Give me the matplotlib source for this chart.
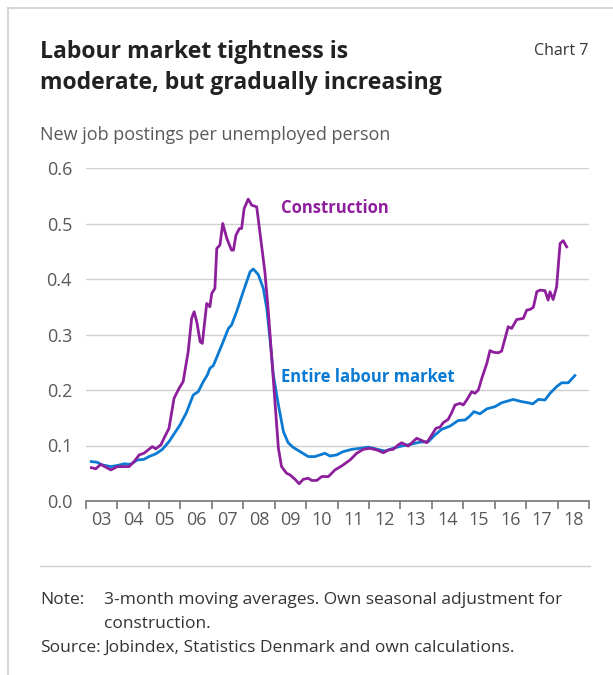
import matplotlib.pyplot as plt
from matplotlib.lines import Line2D
import numpy as np

plt.rcParams['font.family'] = ['Open Sans', 'DejaVu Sans']

# construction, new job postings per unemployed person (decimal years)
constr_years = [2003.17, 2003.31, 2003.47, 2003.79, 2004.00, 2004.21, 2004.37, 2004.53, 2004.69, 2004.84,
                2005.11, 2005.22, 2005.38, 2005.48, 2005.64, 2005.80, 2005.96, 2006.09, 2006.17, 2006.25,
                2006.36, 2006.44, 2006.53, 2006.63, 2006.70, 2006.84, 2006.94, 2007.00, 2007.10, 2007.16,
                2007.26, 2007.35, 2007.48, 2007.63, 2007.69, 2007.77, 2007.88, 2007.95, 2008.03, 2008.16,
                2008.27, 2008.43, 2008.53, 2008.69, 2008.80, 2008.91, 2009.01, 2009.12, 2009.22, 2009.38,
                2009.49, 2009.65, 2009.78, 2009.91, 2010.07, 2010.18, 2010.34, 2010.50, 2010.71, 2010.92,
                2011.13, 2011.40, 2011.61, 2011.82, 2012.03, 2012.25, 2012.46, 2012.62, 2012.77, 2012.93,
                2013.04, 2013.25, 2013.52, 2013.68, 2013.84, 2014.00, 2014.13, 2014.26, 2014.36, 2014.52,
                2014.63, 2014.74, 2014.90, 2015.00, 2015.11, 2015.27, 2015.37, 2015.48, 2015.59, 2015.75,
                2015.85, 2015.96, 2016.11, 2016.22, 2016.33, 2016.43, 2016.54, 2016.70, 2016.91, 2017.02,
                2017.12, 2017.23, 2017.34, 2017.44, 2017.60, 2017.70, 2017.76, 2017.86, 2017.97, 2018.08,
                2018.18, 2018.29]
constr_vals = [0.060, 0.058, 0.066, 0.056, 0.062, 0.062, 0.062, 0.071, 0.083, 0.086,
               0.098, 0.094, 0.101, 0.113, 0.131, 0.185, 0.203, 0.215, 0.242, 0.269,
               0.329, 0.341, 0.321, 0.287, 0.284, 0.356, 0.350, 0.374, 0.383, 0.455,
               0.461, 0.500, 0.473, 0.452, 0.452, 0.479, 0.491, 0.491, 0.527, 0.544,
               0.533, 0.530, 0.485, 0.413, 0.341, 0.257, 0.179, 0.095, 0.062, 0.050,
               0.047, 0.039, 0.031, 0.039, 0.041, 0.037, 0.037, 0.044, 0.044, 0.056,
               0.063, 0.074, 0.086, 0.093, 0.095, 0.092, 0.087, 0.092, 0.093, 0.101,
               0.105, 0.099, 0.113, 0.109, 0.105, 0.119, 0.131, 0.133, 0.141, 0.147,
               0.159, 0.173, 0.176, 0.173, 0.182, 0.197, 0.194, 0.200, 0.221, 0.248,
               0.271, 0.268, 0.267, 0.270, 0.293, 0.314, 0.311, 0.327, 0.329, 0.344,
               0.345, 0.349, 0.377, 0.380, 0.379, 0.362, 0.377, 0.363, 0.386, 0.464,
               0.469, 0.458]

# entire labour market
total_years = [2003.17, 2003.34, 2003.52, 2003.79, 2004.00, 2004.21, 2004.42, 2004.63, 2004.84, 2005.00,
               2005.22, 2005.43, 2005.64, 2005.85, 2005.99, 2006.20, 2006.41, 2006.57, 2006.73, 2006.86,
               2006.94, 2007.05, 2007.32, 2007.53, 2007.63, 2007.79, 2008.00, 2008.22, 2008.32, 2008.48,
               2008.64, 2008.75, 2008.85, 2008.96, 2009.12, 2009.28, 2009.43, 2009.58, 2009.81, 2010.07,
               2010.28, 2010.44, 2010.60, 2010.76, 2010.97, 2011.18, 2011.45, 2011.72, 2011.98, 2012.14,
               2012.35, 2012.51, 2012.77, 2013.04, 2013.31, 2013.62, 2013.89, 2014.10, 2014.31, 2014.58,
               2014.84, 2015.06, 2015.21, 2015.34, 2015.53, 2015.75, 2016.01, 2016.22, 2016.59, 2016.86,
               2017.07, 2017.21, 2017.39, 2017.60, 2017.76, 2017.97, 2018.13, 2018.34, 2018.55]
total_vals = [0.071, 0.070, 0.065, 0.062, 0.064, 0.067, 0.066, 0.074, 0.075, 0.080,
              0.085, 0.093, 0.107, 0.125, 0.137, 0.160, 0.191, 0.197, 0.215, 0.227,
              0.239, 0.244, 0.281, 0.311, 0.317, 0.341, 0.377, 0.413, 0.418, 0.408,
              0.383, 0.347, 0.293, 0.227, 0.173, 0.125, 0.105, 0.097, 0.089, 0.080,
              0.080, 0.083, 0.086, 0.081, 0.083, 0.089, 0.093, 0.095, 0.097, 0.095,
              0.092, 0.090, 0.095, 0.099, 0.102, 0.106, 0.107, 0.119, 0.129, 0.135,
              0.145, 0.146, 0.153, 0.161, 0.157, 0.166, 0.170, 0.177, 0.183, 0.179,
              0.177, 0.175, 0.183, 0.182, 0.194, 0.206, 0.213, 0.213, 0.226]

years = list(range(2003, 2019))
year_labels = [str(y)[2:] for y in years]
yticks = [0.0, 0.1, 0.2, 0.3, 0.4, 0.5, 0.6]

PURPLE = '#8E1F9C'
BLUE = '#0A7AD2'
GREY = '#595959'

W, H = 613, 675
fig = plt.figure(figsize=(W / 100, H / 100), dpi=100)


def fx(px):
    return px / W


def fy(py):
    return 1 - py / H


# frame lines (left and top)
fig.add_artist(Line2D([fx(8), fx(8)], [fy(8), 0], color='#cfcfcf', lw=1.2))
fig.add_artist(Line2D([fx(8), 1], [fy(8), fy(8)], color='#cfcfcf', lw=1.2))

fig.text(fx(40), fy(58), 'Labour market tightness is', fontsize=16.6, fontweight='bold', color='#222222')
fig.text(fx(40), fy(89), 'moderate, but gradually increasing', fontsize=16.6, fontweight='bold', color='#222222')
fig.text(fx(534), fy(55), 'Chart 7', fontsize=11.5, color='#333333')
fig.text(fx(40), fy(140), 'New job postings per unemployed person', fontsize=13, color=GREY)

ax = fig.add_axes([fx(86), fy(501), fx(589) - fx(86), fy(168) - fy(501)])
ax.plot(total_years, total_vals, color=BLUE, lw=2)
ax.plot(constr_years, constr_vals, color=PURPLE, lw=2)

ax.set_xlim(2003, 2019)
ax.set_ylim(0, 0.6)
ax.set_yticks(yticks)
ax.set_yticklabels([f'{v:.1f}' for v in yticks])
ax.set_xticks(years + [2019])
ax.set_xticklabels([])
ax.set_xticks([y + 0.5 for y in years], minor=True)
ax.set_xticklabels(year_labels, minor=True)
ax.tick_params(axis='x', which='major', length=6, width=1.2, color='#777777', direction='out')
ax.tick_params(axis='x', which='minor', length=0, pad=7, labelsize=13, labelcolor=GREY)
ax.tick_params(axis='y', length=0, pad=10, labelsize=13, labelcolor=GREY)
ax.grid(axis='y', color='#d0d0d0', lw=1)
ax.set_axisbelow(True)
for side in ['left', 'right', 'top']:
    ax.spines[side].set_visible(False)
ax.spines['bottom'].set_color('#777777')
ax.spines['bottom'].set_linewidth(1.2)
ax.spines['bottom'].set_zorder(5)

ax.text(2009.2, 0.528, 'Construction', color=PURPLE, fontsize=12, fontweight='bold', va='center')
ax.text(2009.2, 0.223, 'Entire labour market', color=BLUE, fontsize=12, fontweight='bold', va='center')

fig.add_artist(Line2D([fx(40), fx(590)], [fy(566), fy(566)], color='#cfcfcf', lw=1))
note_size = 12.5
fig.text(fx(40), fy(604), 'Note:', fontsize=note_size, color='#333333')
fig.text(fx(104), fy(604), '3-month moving averages. Own seasonal adjustment for', fontsize=note_size, color='#333333')
fig.text(fx(104), fy(628), 'construction.', fontsize=note_size, color='#333333')
fig.text(fx(40), fy(652), 'Source:', fontsize=note_size, color='#333333')
fig.text(fx(104), fy(652), 'Jobindex, Statistics Denmark and own calculations.', fontsize=note_size, color='#333333')

fig.savefig('out.png', dpi=100)
